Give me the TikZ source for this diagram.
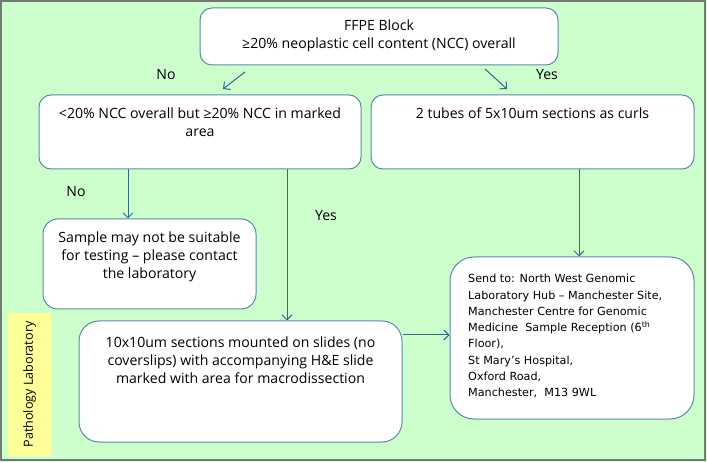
\documentclass[tikz,border=0pt]{standalone}
\usepackage{fontspec}
\setmainfont{Open Sans}
\newfontfamily\addrfont{DejaVu Sans}
\usetikzlibrary{arrows.meta}
\definecolor{bggreen}{HTML}{CCFFCC}
\definecolor{boxline}{HTML}{5A8AAE}
\definecolor{arrowcol}{HTML}{2F6B8C}
\definecolor{labyellow}{HTML}{FFFF99}
\definecolor{frame}{HTML}{767676}
\tikzset{
  box/.style={draw=boxline, line width=1pt, fill=white, rounded corners=12pt, inner sep=0pt},
  txt/.style={font=\fontsize{14.1}{18}\selectfont, align=center, inner sep=0pt, anchor=north},
  lbl/.style={font=\fontsize{14.1}{16}\selectfont, inner sep=0pt},
  arr/.style={draw=arrowcol, line width=1pt, -{Straight Barb[length=5pt,width=10pt]}},
}
\begin{document}
\begin{tikzpicture}[x=1pt,y=-1pt]
\useasboundingbox (0,0) rectangle (707,462);
\fill[bggreen] (0,0) rectangle (707,462);
\draw[frame, line width=1.2pt] (1,1) rectangle (705,460);
\node[fill=labyellow, minimum width=43pt, minimum height=143pt, inner sep=0pt] (lab) at (29.5,384.5) {};
\node[rotate=90, font=\fontsize{12.6}{14}\selectfont, inner sep=0pt] (labt) at (lab.center) {Pathology Laboratory};

\node[box, minimum width=358pt, minimum height=57pt] (b1) at (379,36.5) {};
\node[txt] (t1) at ([yshift=-12pt]b1.north) {FFPE Block\\≥20\% neoplastic cell content (NCC) overall};

\node[box, minimum width=322pt, minimum height=74pt] (b2) at (200,132) {};
\node[txt] (t2) at ([yshift=-13pt]b2.north) {<20\% NCC overall but ≥20\% NCC in marked\\area};

\node[box, minimum width=323pt, minimum height=74pt] (b3) at (532.5,132) {};
\node[txt] (t3) at ([yshift=-13pt]b3.north) {2 tubes of 5x10um sections as curls};

\node[box, rounded corners=15pt, minimum width=213pt, minimum height=90pt] (b4) at (149.5,264) {};
\node[txt] (t4) at ([yshift=-13pt]b4.north) {Sample may not be suitable\\for testing – please contact\\the laboratory};

\node[box, rounded corners=20pt, minimum width=323pt, minimum height=121pt] (b5) at (240.5,381.5) {};
\node[txt] (t5) at ([yshift=-16pt]b5.north) {10x10um sections mounted on slides (no\\coverslips) with accompanying H\&E slide\\marked with area for macrodissection};

\node[box, rounded corners=24pt, minimum width=244pt, minimum height=162pt] (b6) at (572,338) {};
\node[font=\addrfont\fontsize{11.2}{16.3}\selectfont, align=left, inner sep=0pt, anchor=north west] (t6) at (468,274)
  {Send to: North West Genomic\\Laboratory Hub – Manchester Site,\\Manchester Centre for Genomic\\Medicine\ \ Sample Reception (6\textsuperscript{th}\\Floor),\\St Mary’s Hospital,\\Oxford Road,\\Manchester,\ \ M13 9WL};

\coordinate (n1s) at (245,72);
\coordinate (n1e) at (223,89);
\coordinate (y1s) at (485,69);
\coordinate (y1e) at (507,89);
\draw[arr] (n1s) -- (n1e);
\draw[arr] (y1s) -- (y1e);
\draw[arr] (b2.south -| 128,0) -- (b4.north -| 128,0);
\draw[arr] (b2.south -| 287,0) -- (b5.north -| 287,0);
\draw[arr] (b3.south -| 579,0) -- (b6.north -| 579,0);
\draw[arr] (b5.east |- 0,335) -- (b6.west |- 0,335);

\node[lbl] (l1) at (166,75) {No};
\node[lbl] (l2) at (547,75) {Yes};
\node[lbl] (l3) at (76,192) {No};
\node[lbl] (l4) at (326,216) {Yes};
\end{tikzpicture}
\end{document}
